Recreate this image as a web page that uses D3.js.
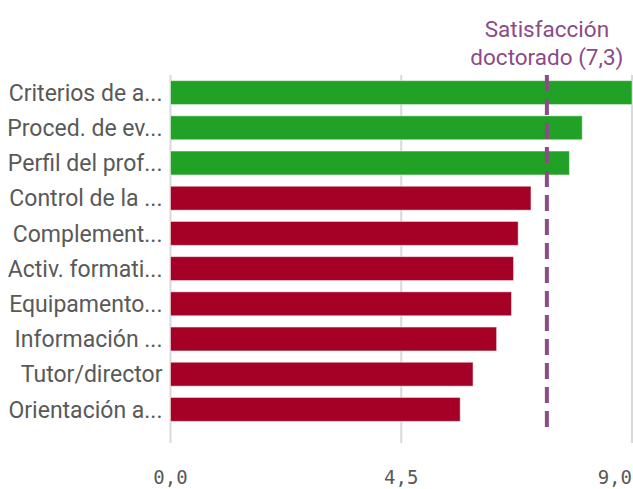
<!DOCTYPE html>
<html>
<head>
<meta charset="utf-8">
<script src="https://cdn.jsdelivr.net/npm/d3@7"></script>
<style>
  body { margin: 0; background: #fff; }
  svg { display: block; }
</style>
</head>
<body>
<svg></svg>
<script>
const width = 633;
const height = 489;

// Data
const categories = [
    "Criterios de a...",
    "Proced. de ev...",
    "Perfil del prof...",
    "Control de la ...",
    "Complement...",
    "Activ. formati...",
    "Equipamento...",
    "Información ...",
    "Tutor/director",
    "Orientación a..."
];
const values = [9.0, 8.03, 7.78, 7.03, 6.78, 6.69, 6.65, 6.36, 5.90, 5.65];
const refValue = 7.34;
const refLabel = ["Satisfacción", "doctorado (7,3)"];
const tickValues = [0, 4.5, 9];

const margin = {top: 75, right: 1, bottom: 62, left: 170.5};

const svg = d3.select("svg")
    .attr("width", width)
    .attr("height", height);

const x = d3.scaleLinear()
    .domain([0, 9])
    .range([margin.left, width - margin.right]);

const y = d3.scaleBand()
    .domain(categories)
    .range([margin.top, height - margin.bottom])
    .paddingInner(0.32)
    .paddingOuter(0.16);

// Gridlines + ticks
svg.append("g")
    .selectAll("line")
    .data(tickValues)
    .join("line")
    .attr("x1", d => x(d))
    .attr("x2", d => x(d))
    .attr("y1", margin.top)
    .attr("y2", height - margin.bottom + 16)
    .attr("stroke", "#d9d9d9")
    .attr("stroke-width", 2);

// Bars
svg.append("g")
    .selectAll("rect")
    .data(categories)
    .join("rect")
    .attr("x", x(0))
    .attr("y", d => y(d))
    .attr("width", (d, i) => x(values[i]) - x(0))
    .attr("height", y.bandwidth())
    .attr("fill", (d, i) => values[i] >= refValue ? "#21a125" : "#a50026")
    .attr("stroke", "#fff")
    .attr("stroke-opacity", 0.5)
    .attr("stroke-width", 1);

// Category labels
svg.append("g")
    .selectAll("text")
    .data(categories)
    .join("text")
    .attr("x", margin.left - 8)
    .attr("y", d => y(d) + y.bandwidth() / 2)
    .attr("dy", "0.36em")
    .attr("text-anchor", "end")
    .attr("font-family", "Roboto, sans-serif")
    .attr("font-size", 23)
    .attr("fill", "#595959")
    .text(d => d);

// X axis labels
svg.append("g")
    .selectAll("text")
    .data(tickValues)
    .join("text")
    .attr("x", d => x(d))
    .attr("y", 484)
    .attr("text-anchor", (d, i) => i === tickValues.length - 1 ? "end" : "middle")
    .attr("font-family", "'DejaVu Sans Mono', monospace")
    .attr("font-size", 19)
    .attr("fill", "#595959")
    .text(d => d3.format(".1f")(d).replace(".", ","));

// Reference line
svg.append("line")
    .attr("x1", x(refValue))
    .attr("x2", x(refValue))
    .attr("y1", margin.top)
    .attr("y2", height - margin.bottom)
    .attr("stroke", "#8c4a87")
    .attr("stroke-width", 4)
    .attr("stroke-dasharray", "16,8");

svg.append("text")
    .attr("x", x(refValue))
    .attr("y", 37)
    .attr("text-anchor", "middle")
    .attr("font-family", "Roboto, sans-serif")
    .attr("font-size", 22.5)
    .attr("fill", "#8c4a87")
    .selectAll("tspan")
    .data(refLabel)
    .join("tspan")
    .attr("x", x(refValue))
    .attr("dy", (d, i) => i === 0 ? 0 : 28)
    .text(d => d);
</script>
</body>
</html>
